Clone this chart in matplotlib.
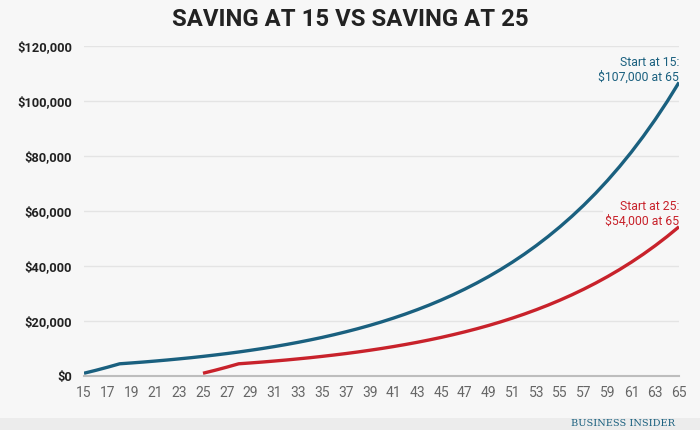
import matplotlib.pyplot as plt
from matplotlib.ticker import FuncFormatter

# --- данные ---
ages = list(range(15, 66))

start_15 = [1000, 2070, 3220, 4440, 4750, 5080, 5440, 5820, 6230, 6660,
            7130, 7630, 8160, 8730, 9350, 10000, 10700, 11450, 12250, 13110,
            14020, 15010, 16060, 17180, 18380, 19670, 21050, 22520, 24100, 25780,
            27590, 29520, 31590, 33800, 36160, 38690, 41400, 44300, 47400, 50720,
            54270, 58070, 62130, 66480, 71140, 76120, 81440, 87150, 93250, 99770,
            106760]

ages_25 = list(range(25, 66))
start_25 = [1000, 2070, 3220, 4440, 4750, 5080, 5440, 5820, 6230, 6660,
            7130, 7630, 8160, 8730, 9350, 10000, 10700, 11450, 12250, 13110,
            14020, 15010, 16060, 17180, 18380, 19670, 21050, 22520, 24100, 25780,
            27590, 29520, 31590, 33800, 36160, 38690, 41400, 44300, 47400, 50720,
            54270]

y_ticks = [0, 20000, 40000, 60000, 80000, 100000, 120000]
x_ticks = list(range(15, 66, 2))

title = "SAVING AT 15 VS SAVING AT 25"
label_15 = "Start at 15:\n$107,000 at 65"
label_25 = "Start at 25:\n$54,000 at 65"

BLUE = "#1a607f"
RED = "#c8222b"
BG = "#f7f7f7"

plt.rcParams['font.family'] = ['Roboto', 'DejaVu Sans']

fig = plt.figure(figsize=(7, 4.3), dpi=100, facecolor=BG)
ax = fig.add_axes([84/700, 54/430, 595/700, 330/430])
ax.set_facecolor(BG)

ax.plot(ages, start_15, color=BLUE, linewidth=2.4, solid_capstyle='butt', zorder=5)
ax.plot(ages_25, start_25, color=RED, linewidth=2.4, solid_capstyle='butt', zorder=5)

ax.set_xlim(15, 65)
ax.set_ylim(0, 120000)
ax.set_xticks(x_ticks)
ax.set_yticks(y_ticks)
ax.yaxis.set_major_formatter(FuncFormatter(lambda v, p: f"${v:,.0f}"))

for t in y_ticks[1:]:
    ax.axhline(t, color="#e4e4e4", linewidth=1, zorder=1)

for s in ['top', 'right', 'left']:
    ax.spines[s].set_visible(False)
ax.spines['bottom'].set_color("#bdbdbd")
ax.spines['bottom'].set_linewidth(1.5)
ax.spines['bottom'].set_zorder(2)

ax.tick_params(axis='both', length=0)
ax.tick_params(axis='x', pad=7, labelsize=10, labelcolor="#666666")
ax.tick_params(axis='y', pad=8.5, labelsize=9.3, labelcolor="#222222")
for lbl in ax.get_yticklabels():
    lbl.set_fontweight('bold')

ax.text(65, 116500, label_15, ha='right', va='top', color=BLUE, fontsize=8.8,
        linespacing=1.15, zorder=4,
        bbox=dict(boxstyle='square,pad=0.15', facecolor=BG, edgecolor='none'))
ax.text(65, 64000, label_25, ha='right', va='top', color=RED, fontsize=8.8,
        linespacing=1.15, zorder=4,
        bbox=dict(boxstyle='square,pad=0.15', facecolor=BG, edgecolor='none'))

fig.text(0.5, 1 - 19/430, title, ha='center', va='center', fontsize=17.2,
         fontweight='bold', color="#222222")

# нижняя плашка
fig.patches.append(plt.Rectangle((0, 0), 1, 12/430, transform=fig.transFigure,
                                 facecolor="#ececec", edgecolor='none', zorder=0))
fig.text(675/700, 1.5/430, "BUSINESS INSIDER", ha='right', va='bottom', fontsize=7,
         family='DejaVu Serif', color=BLUE)

fig.savefig("out.png", dpi=100, facecolor=BG)
